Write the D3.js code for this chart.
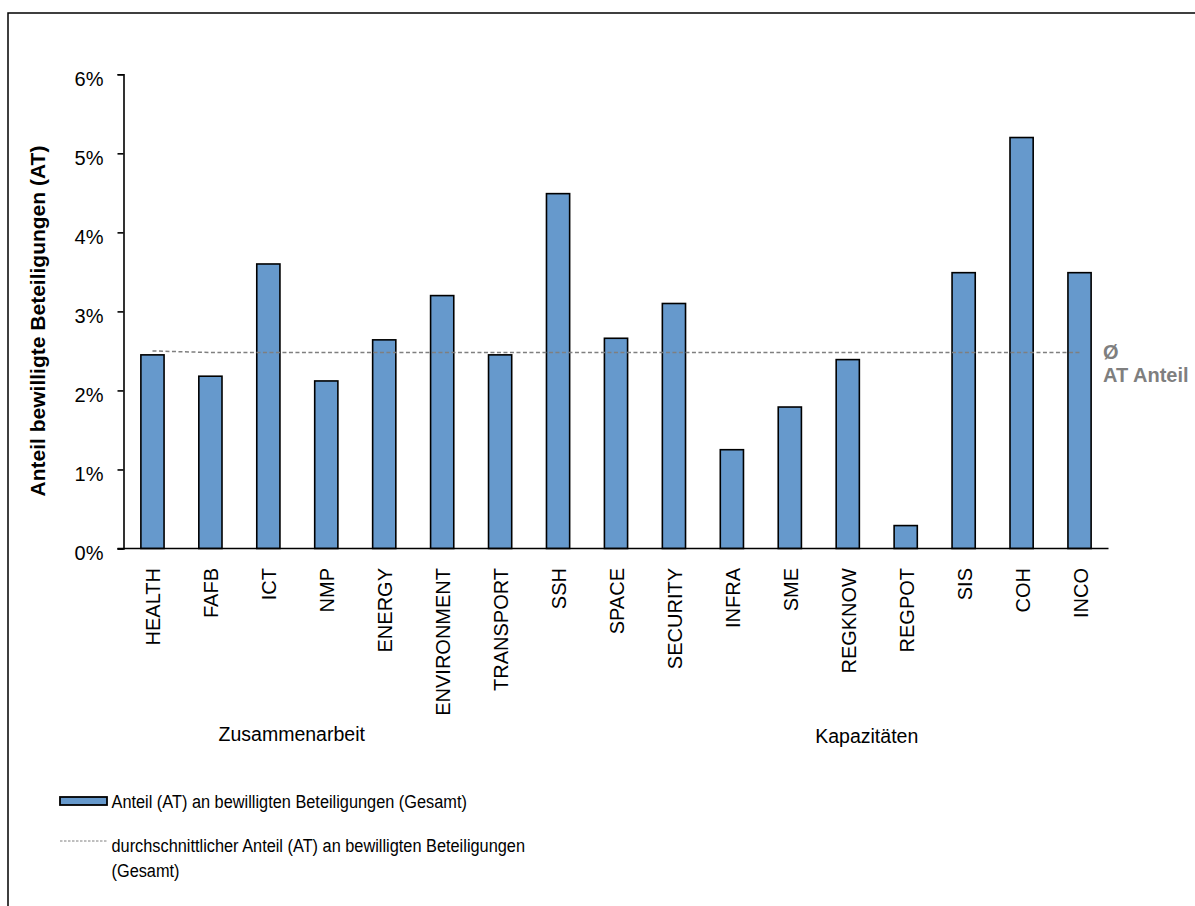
<!DOCTYPE html>
<html>
<head>
<meta charset="utf-8">
<script src="https://cdn.jsdelivr.net/npm/d3@7"></script>
<style>
  html, body { margin: 0; padding: 0; background: #fff; overflow: hidden; }
  svg { display: block; font-family: "Liberation Sans", Arial, sans-serif; }
</style>
</head>
<body>
<svg id="chart" width="1195" height="906"></svg>
<script>
const categories = ["HEALTH","FAFB","ICT","NMP","ENERGY","ENVIRONMENT","TRANSPORT","SSH","SPACE","SECURITY","INFRA","SME","REGKNOW","REGPOT","SIS","COH","INCO"];
const shareValues = [2.45, 2.18, 3.60, 2.12, 2.64, 3.20, 2.45, 4.49, 2.66, 3.10, 1.25, 1.79, 2.39, 0.29, 3.49, 5.20, 3.49];
const averageValues = [2.50, 2.48, 2.48, 2.48, 2.48, 2.48, 2.48, 2.48, 2.48, 2.48, 2.48, 2.48, 2.48, 2.48, 2.48, 2.48, 2.48];
const yTicks = [0, 1, 2, 3, 4, 5, 6];
const groupLabels = ["Zusammenarbeit", "Kapazitäten"];
const groupAnchors = ["ENERGY", "REGKNOW"];
const yTitle = "Anteil bewilligte Beteiligungen (AT)";
const avgLabel = ["Ø", "AT Anteil"];
const legendLabels = ["Anteil (AT) an bewilligten Beteiligungen (Gesamt)", ["durchschnittlicher Anteil (AT) an bewilligten Beteiligungen", "(Gesamt)"]];

const svg = d3.select("#chart");
const barFill = "#6699cc";
const gray = "#7f7f7f";

// frame (right and bottom edges lie outside the picture)
svg.append("path").attr("d", "M8,906V13H1195")
  .attr("fill", "none").attr("stroke", "#000").attr("stroke-width", 1.5);

const x = d3.scaleBand().domain(categories).range([123.5, 1108.5]).paddingInner(0.6).paddingOuter(0.3);
const y = d3.scaleLinear().domain([0, 6]).range([548.5, 74.3]);

// bars
svg.append("g").selectAll("rect").data(categories).join("rect")
  .attr("x", d => x(d))
  .attr("y", (d, i) => y(shareValues[i]))
  .attr("width", x.bandwidth())
  .attr("height", (d, i) => y(0) - y(shareValues[i]))
  .attr("fill", barFill).attr("stroke", "#000").attr("stroke-width", 1.6);

// average line
const line = d3.line().x(d => x(d.c) + x.bandwidth() / 2).y(d => y(d.v));
svg.append("path")
  .datum(categories.map((c, i) => ({c, v: averageValues[i]})))
  .attr("d", line).attr("fill", "none").attr("stroke", gray)
  .attr("stroke-width", 1.5).attr("stroke-dasharray", "4,2.5");

// y axis
const yAxis = svg.append("g").attr("transform", "translate(123.5,0)")
  .call(d3.axisLeft(y).tickValues(yTicks).tickSize(6).tickPadding(14).tickFormat(d => d + "%"));
yAxis.select(".domain").attr("stroke", "#000").attr("stroke-width", 1.6);
yAxis.selectAll(".tick line").attr("stroke", "#000").attr("stroke-width", 1.6);
yAxis.selectAll(".tick text").attr("font-size", 20).attr("fill", "#000")
  .attr("font-family", "Liberation Sans, Arial, sans-serif").attr("dy", "0.72em").attr("y", -3);

// x axis
const xAxis = svg.append("g").attr("transform", "translate(0,548.5)")
  .call(d3.axisBottom(x).tickSize(0).tickPadding(0));
xAxis.select(".domain").attr("stroke", "#000").attr("stroke-width", 1.6)
  .attr("d", "M117.5,0H1108.5");
xAxis.selectAll(".tick text")
  .attr("font-size", 20).attr("fill", "#000")
  .attr("font-family", "Liberation Sans, Arial, sans-serif")
  .attr("text-anchor", "end")
  .attr("transform", "translate(8,19.5) rotate(-90)")
  .attr("x", 0).attr("y", 0).attr("dy", 0);

// group labels
svg.append("g").selectAll("text").data(groupLabels).join("text")
  .attr("x", (d, i) => x(groupAnchors[i]) + x.bandwidth() / 2 + (i === 0 ? -92.5 : 19))
  .attr("y", (d, i) => i === 0 ? 741 : 743)
  .attr("text-anchor", "middle").attr("font-size", 19.5).attr("fill", "#000")
  .text(d => d);

// y title
svg.append("text").attr("transform", "translate(45,321) rotate(-90)")
  .attr("text-anchor", "middle").attr("font-size", 21).attr("font-weight", "bold")
  .attr("fill", "#000").text(yTitle);

// average label
svg.append("g").selectAll("text").data(avgLabel).join("text")
  .attr("x", 1103).attr("y", (d, i) => y(averageValues[averageValues.length - 1]) + 7 + i * 23)
  .attr("font-size", 20).attr("font-weight", "bold").attr("fill", gray).text(d => d);

// legend
const lg = svg.append("g");
lg.append("rect").attr("x", 60).attr("y", 797).attr("width", 47).attr("height", 8)
  .attr("fill", barFill).attr("stroke", "#000").attr("stroke-width", 1.8);
lg.append("text").attr("transform", "translate(111.5,808) scale(0.86,1)")
  .attr("font-size", 19).attr("fill", "#000").text(legendLabels[0]);
lg.append("line").attr("x1", 60).attr("x2", 108).attr("y1", 841).attr("y2", 841)
  .attr("stroke", gray).attr("stroke-width", 1).attr("stroke-dasharray", "2.5,1.5");
legendLabels[1].forEach((t, i) => {
  lg.append("text").attr("transform", `translate(111.5,${851.5 + i * 25}) scale(0.86,1)`)
    .attr("font-size", 19).attr("fill", "#000").text(t);
});
</script>
</body>
</html>
